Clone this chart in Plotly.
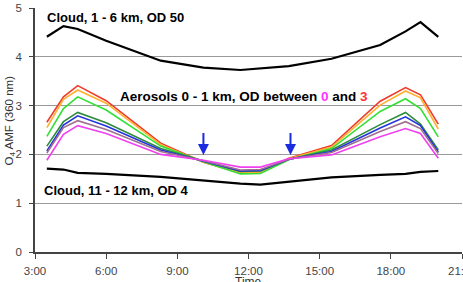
import plotly.graph_objects as go

# Time of day (hours)
times = [3.5, 4.2, 4.8, 6.0, 8.3, 10.1, 11.66, 12.5, 13.7, 15.5, 17.55, 18.62, 19.25, 20.0]

cloud_low_od50 = [4.41, 4.63, 4.57, 4.33, 3.92, 3.78, 3.73, 3.76, 3.81, 3.96, 4.24, 4.52, 4.71, 4.41]
cloud_high_od4 = [1.71, 1.69, 1.62, 1.60, 1.54, 1.46, 1.40, 1.38, 1.44, 1.53, 1.58, 1.60, 1.64, 1.66]

aer_od3 = [2.66, 3.18, 3.41, 3.10, 2.23, 1.84, 1.62, 1.64, 1.92, 2.18, 3.09, 3.37, 3.22, 2.62]
aer_o2 = [2.55, 3.13, 3.32, 3.05, 2.20, 1.84, 1.63, 1.64, 1.91, 2.15, 3.01, 3.30, 3.16, 2.52]
aer_o3 = [2.37, 2.94, 3.18, 2.91, 2.17, 1.85, 1.60, 1.61, 1.89, 2.12, 2.88, 3.14, 2.94, 2.36]
aer_o4 = [2.17, 2.67, 2.86, 2.65, 2.12, 1.86, 1.65, 1.66, 1.90, 2.09, 2.61, 2.86, 2.62, 2.09]
aer_o5 = [2.07, 2.60, 2.79, 2.58, 2.09, 1.86, 1.66, 1.67, 1.90, 2.06, 2.54, 2.77, 2.59, 2.05]
aer_o6 = [2.03, 2.55, 2.69, 2.51, 2.06, 1.87, 1.68, 1.69, 1.90, 2.04, 2.47, 2.67, 2.53, 2.02]
aer_od0 = [1.88, 2.41, 2.59, 2.43, 2.00, 1.88, 1.74, 1.74, 1.91, 1.99, 2.36, 2.53, 2.43, 1.92]

aer_series = [aer_od3, aer_o2, aer_o3, aer_o4, aer_o5, aer_o6, aer_od0]
aer_colors = ["#EE3B2B", "#FFB030", "#33E033", "#2E8B3A", "#2233DD", "#A07090", "#F040F0"]

xticks = [3, 6, 9, 12, 15, 18]
xticklabels = ["3:00", "6:00", "9:00", "12:00", "15:00", "18:00"]
last_tick = 21
last_ticklabel = "21:00"
arrow_times = [10.1, 13.77]

FONT = "Arial, Liberation Sans, sans-serif"

fig = go.Figure()
fig.add_trace(go.Scatter(x=times, y=cloud_low_od50, mode="lines",
                         line=dict(color="black", width=2.2), showlegend=False))
fig.add_trace(go.Scatter(x=times, y=cloud_high_od4, mode="lines",
                         line=dict(color="black", width=2.2), showlegend=False))
for ys, c in zip(aer_series, aer_colors):
    fig.add_trace(go.Scatter(x=times, y=ys, mode="lines",
                             line=dict(color=c, width=1.6), showlegend=False))

font_b = dict(family=FONT, size=13, color="black")
fig.add_annotation(x=3.42, y=4.8, xref="x", yref="y", xanchor="left", yanchor="middle",
                   text="<b>Cloud, 1 - 6 km, OD 50</b>", showarrow=False, font=font_b)
fig.add_annotation(x=6.5, y=3.18, xref="x", yref="y", xanchor="left", yanchor="middle",
                   text="<b>Aerosols 0 - 1 km, OD between <span style='color:#FF33FF'>0</span> and <span style='color:#FF3333'>3</span></b>",
                   showarrow=False, font=dict(family=FONT, size=13.5, color="black"))
fig.add_annotation(x=3.3, y=1.27, xref="x", yref="y", xanchor="left", yanchor="middle",
                   text="<b>Cloud, 11 - 12 km, OD 4</b>", showarrow=False, font=font_b)
for t in arrow_times:
    fig.add_annotation(x=t, y=1.99, ax=t, ay=2.47, xref="x", yref="y", axref="x", ayref="y",
                       text="", showarrow=True, arrowhead=2, arrowsize=1.1, arrowwidth=2,
                       arrowcolor="#1A2BE0")

# last x tick label (partly outside the page, as in the reference)
fig.add_annotation(x=last_tick, y=-0.047, xref="x", yref="paper", xanchor="center", yanchor="top",
                   text=last_ticklabel, showarrow=False, font=dict(family=FONT, size=11.5, color="#444"))
# x-axis title (partly below the page, as in the reference)
fig.add_annotation(x=12, y=-0.088, xref="x", yref="paper", xanchor="center", yanchor="top",
                   text="Time", showarrow=False, font=dict(family=FONT, size=12, color="#333"))
# y-axis title
fig.add_annotation(x=-0.058, y=0.54, xref="paper", yref="paper", xanchor="center", yanchor="middle",
                   text="O<sub>4</sub> AMF (360 nm)", textangle=-90, showarrow=False,
                   font=dict(family=FONT, size=11.5, color="#333"))

fig.update_layout(
    width=463, height=282,
    margin=dict(l=35, r=1, t=8, b=30, autoexpand=False),
    plot_bgcolor="white", paper_bgcolor="white",
    font=dict(family=FONT, size=11, color="#333"),
)
fig.update_xaxes(range=[3, 21], tickvals=xticks + [last_tick], ticktext=xticklabels + [""],
                 showline=True, linecolor="#444", linewidth=1.5, ticks="outside",
                 ticklen=5, tickcolor="#444", showgrid=False, zeroline=False,
                 ticklabelstandoff=2, automargin=False,
                 tickfont=dict(size=11.5, color="#444"))
fig.update_yaxes(range=[0, 5], dtick=1, showline=True, linecolor="#444", linewidth=1.5,
                 ticks="outside", ticklen=4, tickcolor="#444", ticklabelstandoff=5,
                 showgrid=True, gridcolor="#9A9A9A", gridwidth=1, zeroline=False,
                 automargin=False,
                 tickfont=dict(size=11.5, color="#444"))

fig.write_html("out.html")
